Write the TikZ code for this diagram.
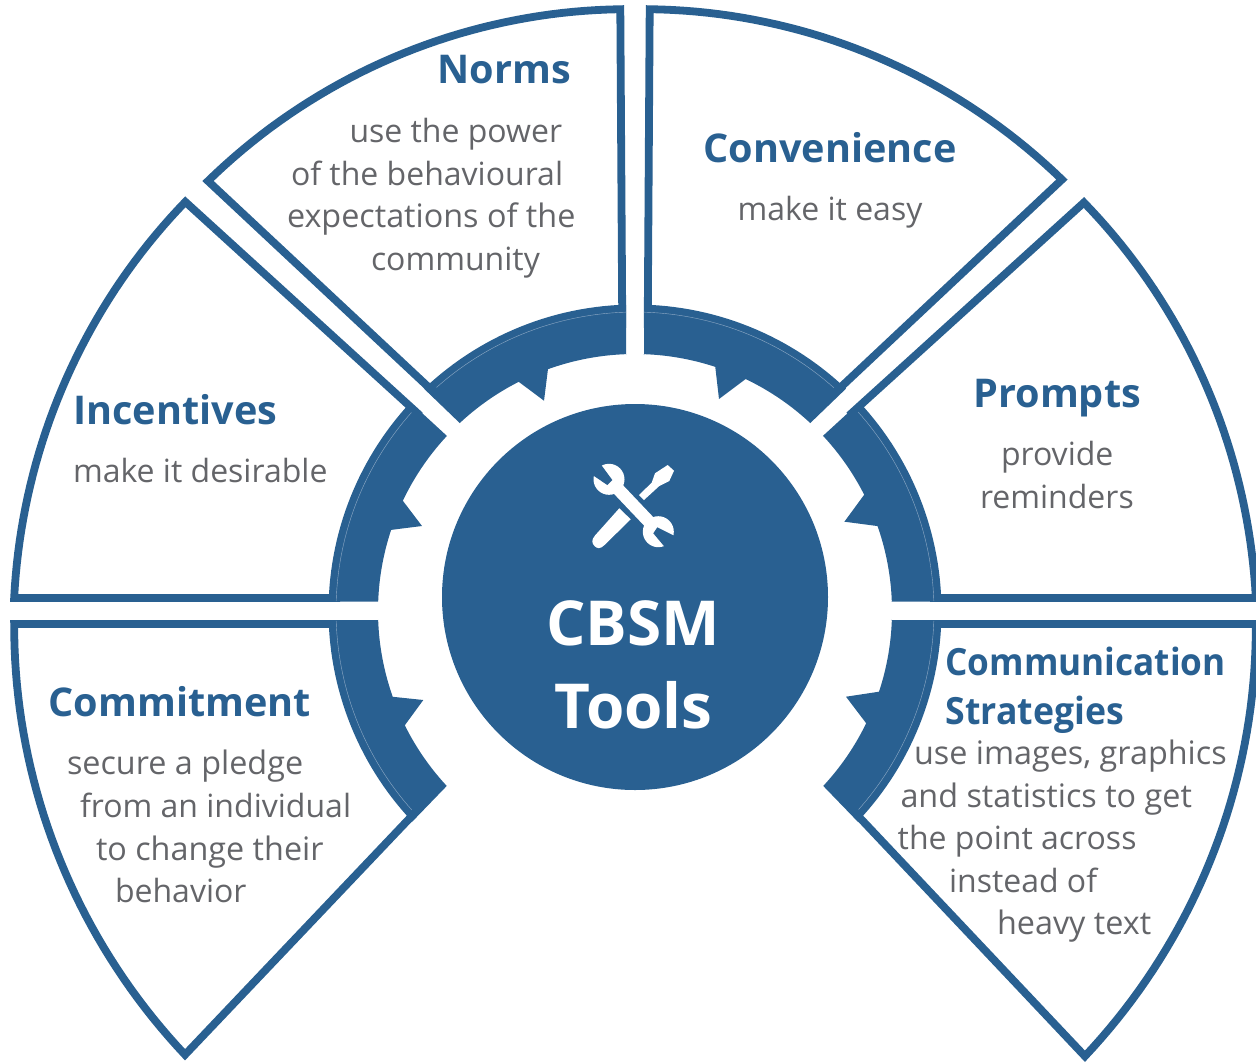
\documentclass[tikz,border=0pt]{standalone}
\usepackage{fontspec}
\usepackage{graphicx}
\setmainfont{Open Sans}
\definecolor{ink}{HTML}{296091}
\definecolor{seam}{HTML}{8FAAC6}
\definecolor{grayt}{HTML}{646569}
\newcommand{\ringarc}[3]{-- plot[domain=#1:#2,samples=30,variable=\t] ({635+(#3)*cos(\t)},{611-(#3)*sin(\t)})}
\newcommand{\spiralarc}[4]{-- plot[domain=#1:#2,samples=40,variable=\t] ({635+((#3)+((#4)-(#3))*(\t-(#1))/((#2)-(#1)))*cos(\t)},{611-((#3)+((#4)-(#3))*(\t-(#1))/((#2)-(#1)))*sin(\t)})}
\newcommand{\seamarc}[2]{\draw[seamline] plot[domain=#1:#2,samples=30,variable=\t] ({635+299*cos(\t)},{611-299*sin(\t)});}
\tikzset{
  outline/.style={draw=ink,line width=7.8pt,miter limit=20},
  band/.style={fill=ink,draw=none},
  seamline/.style={draw=seam,line width=0.4pt},
  headtxt/.style={anchor=base west,inner sep=0pt,outer sep=0pt,text=ink,font=\fontsize{39.6}{48}\selectfont\bfseries},
  narrowhead/.style={anchor=base west,inner sep=0pt,outer sep=0pt,text=ink,font=\fontsize{37.5}{48}\selectfont\bfseries},
  bodytxt/.style={anchor=base west,inner sep=0pt,outer sep=0pt,text=grayt,font=\fontsize{32}{38}\selectfont},
  widebody/.style={anchor=base west,inner sep=0pt,outer sep=0pt,text=grayt,font=\fontsize{32.35}{38}\selectfont},
  centertxt/.style={anchor=base,inner sep=0pt,outer sep=0pt,text=white,font=\fontsize{62}{70}\selectfont\bfseries},
  iconpart/.style={fill=white,draw=none},
  iconcut/.style={fill=ink,draw=none}
}
\begin{document}
\begin{tikzpicture}[x=1pt,y=-1pt]
\useasboundingbox (0,0) rectangle (1256,1061);
% outlines
\draw[outline] (622.3,328) \spiralarc{91.4}{134.8}{602}{606} -- (438,396);
\draw[outline] (647.7,328) \spiralarc{88.6}{45.3}{602}{607} -- (830,397.3);
\draw[outline] (340,598) \spiralarc{178.8}{137.7}{621}{608} -- (420,415.5);
\draw[outline] (930,598) \spiralarc{1.2}{42.3}{621}{607} -- (849,415.5);
\draw[outline] (340,624) \spiralarc{181.2}{224.6}{621}{632} -- (420,807.4);
\draw[outline] (930,624) \spiralarc{-1.2}{-44.7}{621}{633} -- (850,807.4);
% bands
\fill[band] (626,355) \ringarc{92}{109.8}{257} -- (544,400.7) \ringarc{116.9}{133}{257} \ringarc{133.5}{91.7}{306.5} -- (626,305) -- cycle;
\fill[band] (644,355) \ringarc{88}{71.8}{257} -- (719,399) \ringarc{64.5}{47}{257} \ringarc{46.5}{88.3}{306.5} -- (644,305) -- cycle;
\fill[band] (447,436) \ringarc{137.1}{154.6}{257} -- (422,526) \ringarc{161.6}{177.9}{257} -- (378,601.7) -- (329,601.7) \ringarc{178}{137.1}{306.5} -- cycle;
\fill[band] (822.8,436) \ringarc{42.9}{26.9}{257} -- (844.4,521.7) \ringarc{19.3}{2.1}{257} -- (891,601.7) -- (941,601.7) \ringarc{2}{42.9}{306.5} -- cycle;
\fill[band] (378,620) \ringarc{182}{199.5}{257} -- (423.3,700) \ringarc{206.4}{222.9}{257} \ringarc{223.4}{182}{306.5} -- (329,620) -- cycle;
\fill[band] (891,620) \ringarc{-2}{-18.3}{257} -- (846,696.7) \ringarc{-25.9}{-42.9}{257} \ringarc{-43.4}{-2}{306.5} -- (941,620) -- cycle;
% seams
\seamarc{131.6}{91.7}
\seamarc{48.3}{88.3}
\seamarc{138.4}{178.1}
\seamarc{41.7}{1.9}
\seamarc{221.7}{181.9}
\seamarc{-41.6}{-1.9}
% hub
\node[circle,fill=ink,draw=none,minimum size=386pt,inner sep=0pt,outer sep=0pt] (hub) at (635,597) {};
% tools icon
\draw[white,line width=12.5pt] (609,479.5) -- (658.3,531.5);
\fill[iconpart] (609,479.3) circle[radius=15.5];
\fill[iconpart] (658.3,531.7) circle[radius=15.5];
\fill[iconcut] (600,463.3) -- (590,473.3) -- (607.3,485) -- (612.3,480) -- cycle;
\fill[iconcut] (677.3,537.3) -- (666.7,549.3) -- (653.3,533.3) -- (657.3,527.3) -- cycle;
\fill[iconpart] (619.3,508.3) -- (630.7,519.3) -- (604.5,545) .. controls (600,549.5) and (597,548.5) .. (594.5,546) .. controls (592,543.5) and (591,540) .. (595,535.5) -- cycle;
\fill[iconpart] (639,495) -- (651.7,482.7) -- (655,473.3) -- (667.7,465) -- (674,470.7) -- (669.3,481) -- (659.3,486) -- (644,500) -- cycle;
% centre
\node[centertxt] (cbsm) at (633,645) {CBSM};
\node[centertxt] (tools) at (633.5,728) {Tools};
% labels
\node[headtxt] (norms) at (437.5,83) {Norms};
\node[bodytxt] (n1) at (349.5,142) {use the power};
\node[bodytxt] (n2) at (291,185) {of the behavioural};
\node[widebody] (n3) at (287,227) {expectations of the};
\node[bodytxt] (n4) at (371,270) {community};
\node[headtxt] (conv) at (703.5,162) {Convenience};
\node[bodytxt] (c1) at (737.6,220.5) {make it easy};
\node[headtxt] (inc) at (73.5,424) {Incentives};
\node[bodytxt] (i1) at (73,482.5) {make it desirable};
\node[headtxt] (pro) at (973.5,407) {Prompts};
\node[bodytxt] (p1) at (1001,465.5) {provide};
\node[bodytxt] (p2) at (980,508) {reminders};
\node[headtxt] (com) at (48.5,716) {Commitment};
\node[widebody] (m1) at (67,774) {secure a pledge};
\node[bodytxt] (m2) at (80,817) {from an individual};
\node[widebody] (m3) at (96,860) {to change their};
\node[bodytxt] (m4) at (115,902.5) {behavior};
\node[narrowhead] (cs1) at (945.5,675) {\scalebox{0.937}[1]{Communication}};
\node[narrowhead] (cs2) at (945.5,724) {\scalebox{0.95}[1]{Strategies}};
\node[widebody] (s1) at (914,764.5) {use images, graphics};
\node[widebody] (s2) at (900.5,807.5) {and statistics to get};
\node[bodytxt] (s3) at (897.7,849.5) {the point across};
\node[bodytxt] (s4) at (949,892.5) {instead of};
\node[widebody] (s5) at (997,934.5) {heavy text};
\end{tikzpicture}
\end{document}
